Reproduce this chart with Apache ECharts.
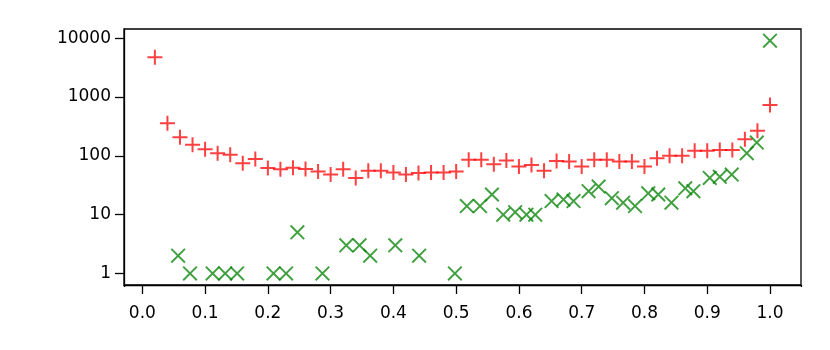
<!DOCTYPE html>
<html>
<head>
<meta charset="utf-8">
<script src="https://cdn.jsdelivr.net/npm/echarts@6/dist/echarts.min.js"></script>
<style>
  html, body { margin: 0; padding: 0; background: #fff; }
  #chart { width: 830px; height: 350px; }
</style>
</head>
<body>
<div id="chart"></div>
<script>
// red "+" series
var redX = [0.02, 0.04, 0.06, 0.08, 0.10, 0.12, 0.14, 0.16, 0.18, 0.20,
  0.22, 0.24, 0.26, 0.28, 0.30, 0.32, 0.34, 0.36, 0.38, 0.40,
  0.42, 0.44, 0.46, 0.48, 0.50, 0.52, 0.54, 0.56, 0.58, 0.60,
  0.62, 0.64, 0.66, 0.68, 0.70, 0.72, 0.74, 0.76, 0.78, 0.80,
  0.82, 0.84, 0.86, 0.88, 0.90, 0.92, 0.94, 0.96, 0.98, 1.00]
var redY = [4750, 360, 208, 154, 130, 111, 104, 75, 88, 62,
  59, 63, 60, 54, 48, 59, 42, 56, 56, 52,
  48, 51, 52, 52, 54, 86, 86, 72, 83, 66,
  70, 56, 82, 80, 66, 86, 86, 80, 80, 66,
  91, 100, 100, 122, 122, 126, 126, 192, 266, 736]

// green "x" series
var greenX = [0.057, 0.076, 0.112, 0.132, 0.151, 0.209, 0.229, 0.247, 0.287, 0.325,
  0.346, 0.363, 0.403, 0.441, 0.498, 0.517, 0.538, 0.557, 0.575, 0.594,
  0.612, 0.626, 0.652, 0.671, 0.687, 0.711, 0.727, 0.748, 0.766, 0.785,
  0.806, 0.822, 0.843, 0.865, 0.878, 0.904, 0.920, 0.939, 0.963, 0.979, 1.000]
var greenY = [2, 1, 1, 1, 1, 1, 1, 5, 1, 3,
  3, 2, 3, 2, 1, 14, 14, 22, 10, 11,
  10, 10, 17, 18, 17, 25, 30, 19, 16, 14,
  23, 22, 16, 28, 25, 42, 44, 48, 111, 168, 9100]

// tick labels
var xTicks = [0, 0.1, 0.2, 0.3, 0.4, 0.5, 0.6, 0.7, 0.8, 0.9, 1.0]
var yTicks = [1, 10, 100, 1000, 10000]

var plusPath = 'path://M-1,-7.5h2v6.5h6.5v2h-6.5v6.5h-2v-6.5h-6.5v-2h6.5z'
var crossPath = 'path://M-7.707,-6.293L6.293,7.707L7.707,6.293L-6.293,-7.707Z' +
  'M-7.707,6.293L-6.293,7.707L7.707,-6.293L6.293,-7.707Z'

function pairs (xs, ys) {
  var out = []
  for (var i = 0; i < xs.length; i++) out.push([xs[i], ys[i]])
  return out
}

var font = 'DejaVu Sans'
var chart = echarts.init(document.getElementById('chart'), null, { renderer: 'canvas' })

var option = {
  backgroundColor: '#fff',
  animation: false,
  grid: {
    left: 124,
    right: 29,
    top: 29,
    bottom: 65,
    show: true,
    borderColor: '#000',
    borderWidth: 1.3,
    backgroundColor: 'transparent'
  },
  // white patches over the two ticks the scale adds at the ends of the x extent
  graphic: [
    { type: 'rect', left: 122, top: 287, z: 100, shape: { width: 4, height: 10 }, style: { fill: '#fff' } },
    { type: 'rect', left: 799, top: 287, z: 100, shape: { width: 4, height: 10 }, style: { fill: '#fff' } }
  ],
  xAxis: {
    type: 'value',
    min: -0.0292,
    max: 1.0494,
    splitNumber: 10,
    axisLine: { show: true, onZero: false, lineStyle: { color: '#000', width: 1.3 } },
    splitLine: { show: false },
    axisTick: {
      show: true,
      inside: false,
      length: 9,
      lineStyle: { color: '#000', width: 1.3 }
    },
    axisLabel: {
      customValues: xTicks,
      margin: 20,
      color: '#000',
      fontFamily: font,
      fontSize: 17,
      formatter: function (v) { return v.toFixed(1) }
    }
  },
  yAxis: {
    type: 'log',
    logBase: 10,
    min: 0.635,
    max: 14390,
    axisLine: { show: true, onZero: false, lineStyle: { color: '#000', width: 1.3 } },
    splitLine: { show: false },
    minorTick: { show: false },
    axisTick: {
      show: true,
      inside: false,
      customValues: yTicks,
      length: 9,
      lineStyle: { color: '#000', width: 1.3 }
    },
    axisLabel: {
      customValues: yTicks,
      margin: 13,
      color: '#000',
      fontFamily: font,
      fontSize: 17,
      formatter: function (v) { return String(Math.round(v)) }
    }
  },
  series: [
    {
      type: 'scatter',
      symbol: plusPath,
      symbolSize: 15,
      itemStyle: { color: 'rgb(255,0,0)', opacity: 0.75 },
      data: pairs(redX, redY)
    },
    {
      type: 'scatter',
      symbol: crossPath,
      symbolSize: 15,
      itemStyle: { color: 'rgb(0,128,0)', opacity: 0.75 },
      data: pairs(greenX, greenY)
    }
  ]
}

chart.setOption(option)
</script>
</body>
</html>
